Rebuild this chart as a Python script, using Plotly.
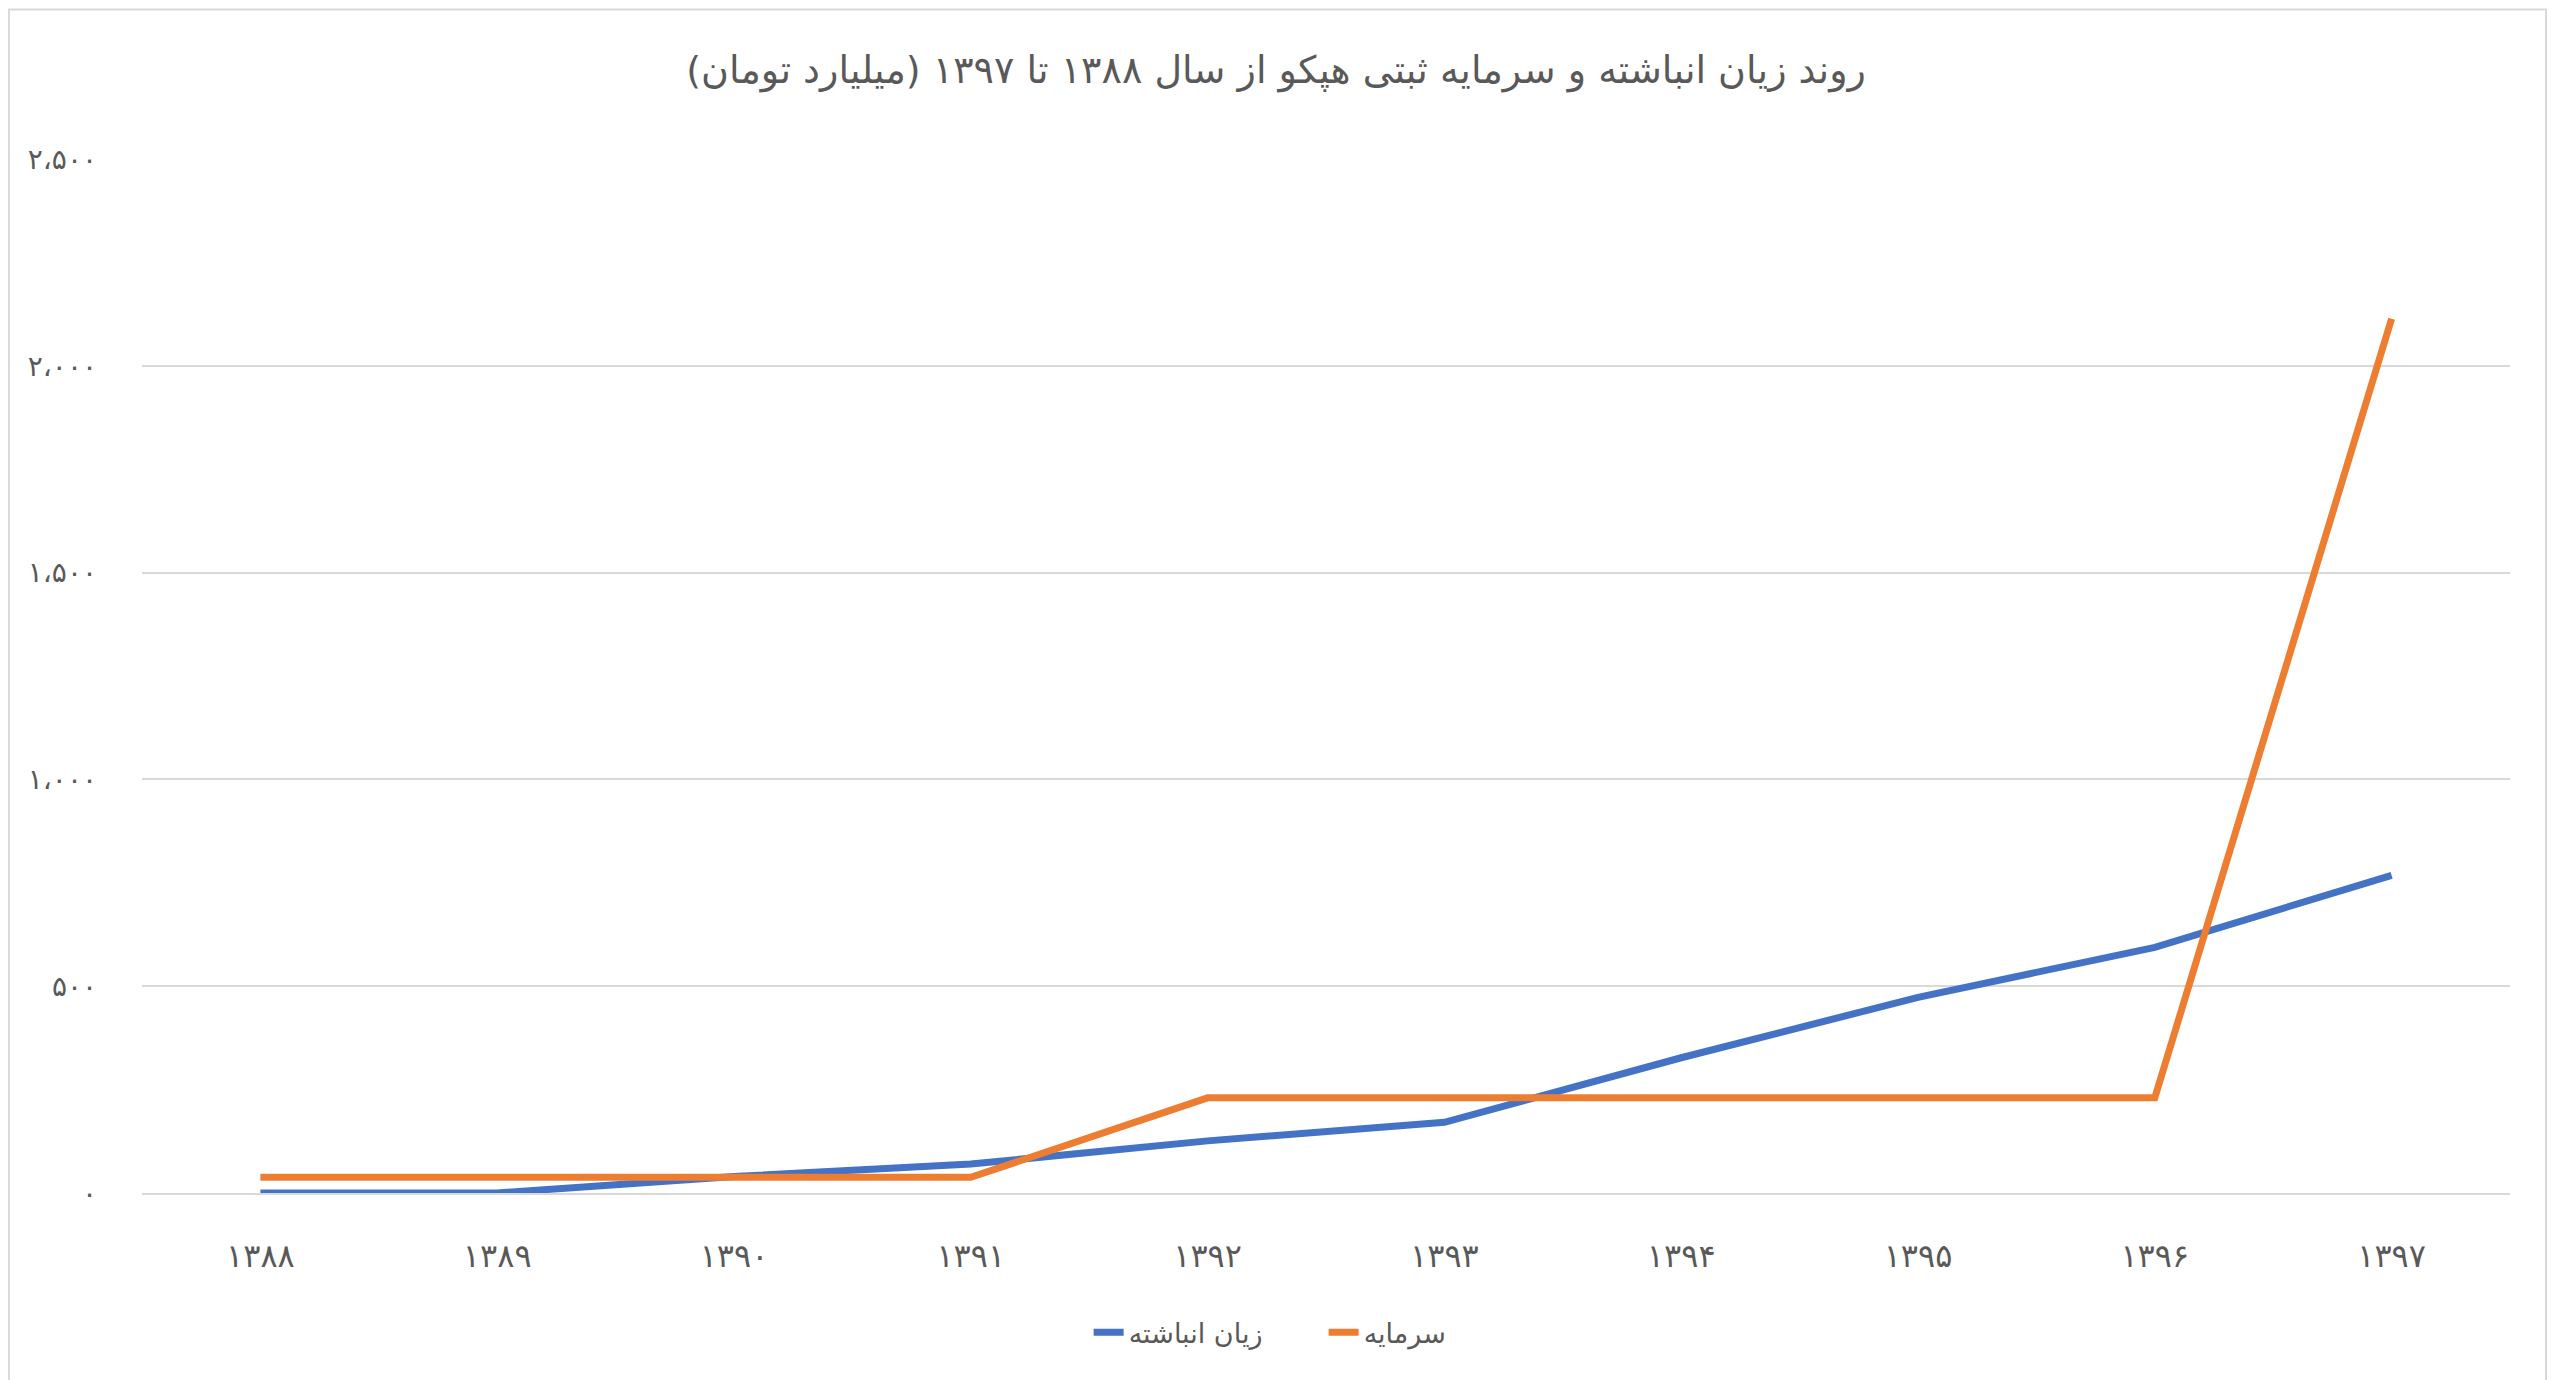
import plotly.graph_objects as go

# داده‌ها (میلیارد تومان)
years = ["۱۳۸۸", "۱۳۸۹", "۱۳۹۰", "۱۳۹۱", "۱۳۹۲", "۱۳۹۳", "۱۳۹۴", "۱۳۹۵", "۱۳۹۶", "۱۳۹۷"]
accumulated_loss = [0, 0, 40, 70, 126, 171, 327, 473, 594, 768]
capital = [38, 38, 38, 38, 230, 230, 230, 230, 230, 2114]

y_tick_values = [0, 500, 1000, 1500, 2000, 2500]
y_tick_labels = ["۰", "۵۰۰", "۱،۰۰۰", "۱،۵۰۰", "۲،۰۰۰", "۲،۵۰۰"]

title_text = "روند زیان انباشته و سرمایه ثبتی هپکو از سال ۱۳۸۸ تا ۱۳۹۷ (میلیارد تومان)"

BLUE = "#4472C4"
ORANGE = "#ED7D31"
TEXT = "#595959"
GRID = "#D9D9D9"
FONT = "DejaVu Sans"

fig = go.Figure()

fig.add_trace(go.Scatter(x=years, y=accumulated_loss, mode="lines",
                         line=dict(color=BLUE, width=7),
                         name="زیان انباشته"))
fig.add_trace(go.Scatter(x=years, y=capital, mode="lines",
                         line=dict(color=ORANGE, width=7),
                         name="سرمایه"))

fig.update_layout(
    width=2556,
    height=1380,
    autosize=False,
    paper_bgcolor="white",
    plot_bgcolor="white",
    # صفحه ۸ پیکسل حاشیه دارد
    margin=dict(l=134, r=54, t=151, b=195, autoexpand=False),
    font=dict(family=FONT, color=TEXT, size=26),
    title=dict(text=title_text, x=(1276 - 8) / 2556, xanchor="center", xref="container",
               y=1 - 62 / 1380, yanchor="middle", yref="container",
               font=dict(family=FONT, size=38, color=TEXT)),
    showlegend=True,
    legend=dict(orientation="h", x=0.499, xanchor="center",
                y=-0.135, yanchor="middle", font=dict(size=27, color=TEXT),
                entrywidth=190, entrywidthmode="pixels"),
    xaxis=dict(type="category", range=[-0.5, 9.5], showgrid=False,
               showline=True, linecolor=GRID, linewidth=2,
               ticks="", tickfont=dict(size=32, color=TEXT),
               ticklabelstandoff=34, zeroline=False),
    yaxis=dict(range=[0, 2500], tickvals=y_tick_values, ticktext=y_tick_labels,
               showgrid=True, gridcolor=GRID, gridwidth=2,
               zeroline=False, showline=False, ticks="",
               tickfont=dict(size=28, color=TEXT), ticklabelstandoff=44),
)

# کادر دور نمودار
fig.add_shape(type="rect", xref="paper", yref="paper",
              x0=-0.0562, x1=1.0152, y0=-0.2, y1=1.1445,
              line=dict(color=GRID, width=2), layer="below")

fig.write_html("out.html")
